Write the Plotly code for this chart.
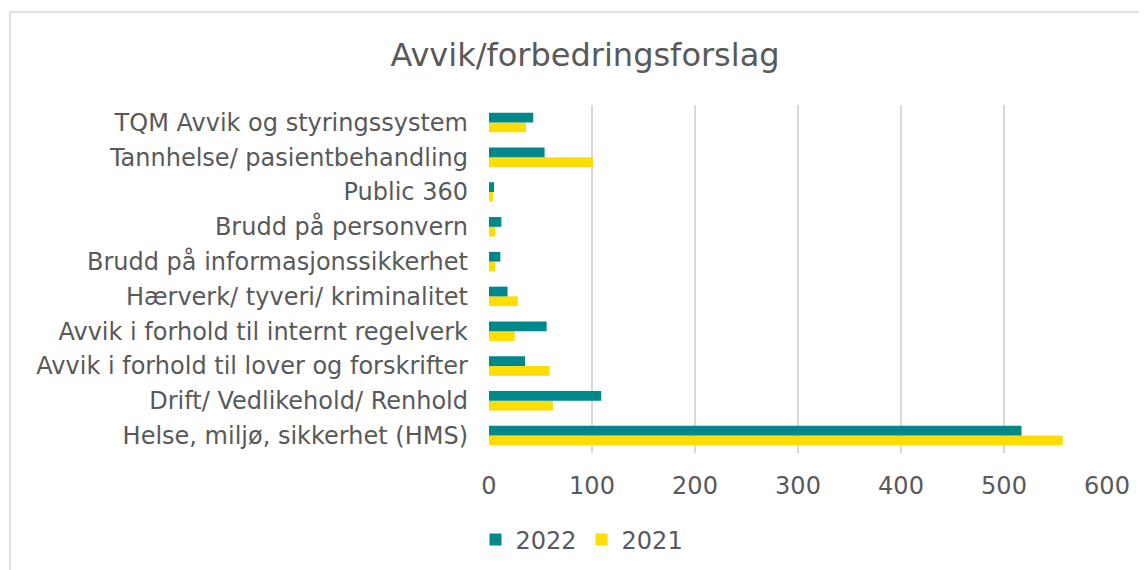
import plotly.graph_objects as go

categories = [
    "Helse, miljø, sikkerhet (HMS)",
    "Drift/ Vedlikehold/ Renhold",
    "Avvik i forhold til lover og forskrifter",
    "Avvik i forhold til internt regelverk",
    "Hærverk/ tyveri/ kriminalitet",
    "Brudd på informasjonssikkerhet",
    "Brudd på personvern",
    "Public 360",
    "Tannhelse/ pasientbehandling",
    "TQM Avvik og styringssystem",
]
values_2022 = [517, 109, 35, 56, 18, 11, 12, 5, 54, 43]
values_2021 = [557, 62, 59, 25, 28, 6, 6, 4, 101, 36]
x_ticks = [0, 100, 200, 300, 400, 500, 600]

TEAL = "#00878C"
YELLOW = "#FFDD00"
GREY = "#595959"
FONT = "DejaVu Sans"

fig = go.Figure()
fig.add_trace(go.Bar(y=categories, x=values_2021, name="2021", orientation="h",
                     marker=dict(color=YELLOW, line=dict(width=0))))
fig.add_trace(go.Bar(y=categories, x=values_2022, name="2022", orientation="h",
                     marker=dict(color=TEAL, line=dict(width=0))))

# page has an 8px body margin; work in figure coordinates
OFF = 8
W, H = 1147 - OFF, 570 - OFF
L, R, T, B = 489 - OFF, 40, 105 - OFF, 117
pw, ph = W - L - R, H - T - B

def px_x(p):
    return (p - OFF - L) / pw

def px_y(p):
    return (H - B - (p - OFF)) / ph

fig.update_layout(
    width=W, height=H,
    margin=dict(l=L, r=R, t=T, b=B),
    paper_bgcolor="white", plot_bgcolor="white",
    barmode="group", bargap=0.44, bargroupgap=0,
    title=dict(text="Avvik/forbedringsforslag", x=(585 - OFF) / W, xanchor="center",
               y=1 - (55 - OFF) / H, yanchor="middle",
               font=dict(family=FONT, size=32, color=GREY)),
    font=dict(family=FONT, color=GREY),
    xaxis=dict(range=[0, 600], tickvals=x_ticks, showgrid=True, gridcolor="#D9D9D9",
               gridwidth=1.5, zeroline=False, showline=False, ticks="",
               ticklabelstandoff=16,
               tickfont=dict(size=24, color=GREY)),
    yaxis=dict(showgrid=False, showline=False, ticks="", ticklabelstandoff=20,
               tickfont=dict(size=24, color=GREY)),
    legend=dict(orientation="h", x=(582 - OFF) / W, xref="container", xanchor="center",
                y=1 - (540 - OFF) / H, yref="container", yanchor="middle",
                traceorder="reversed", itemwidth=30,
                font=dict(size=24, color=GREY)),
    shapes=[dict(type="rect", xref="paper", yref="paper",
                 x0=px_x(10), x1=px_x(1170), y0=px_y(600), y1=px_y(12),
                 line=dict(color="#D9D9D9", width=1.5), fillcolor="rgba(0,0,0,0)",
                 layer="below")],
)

fig.write_html("out.html")
